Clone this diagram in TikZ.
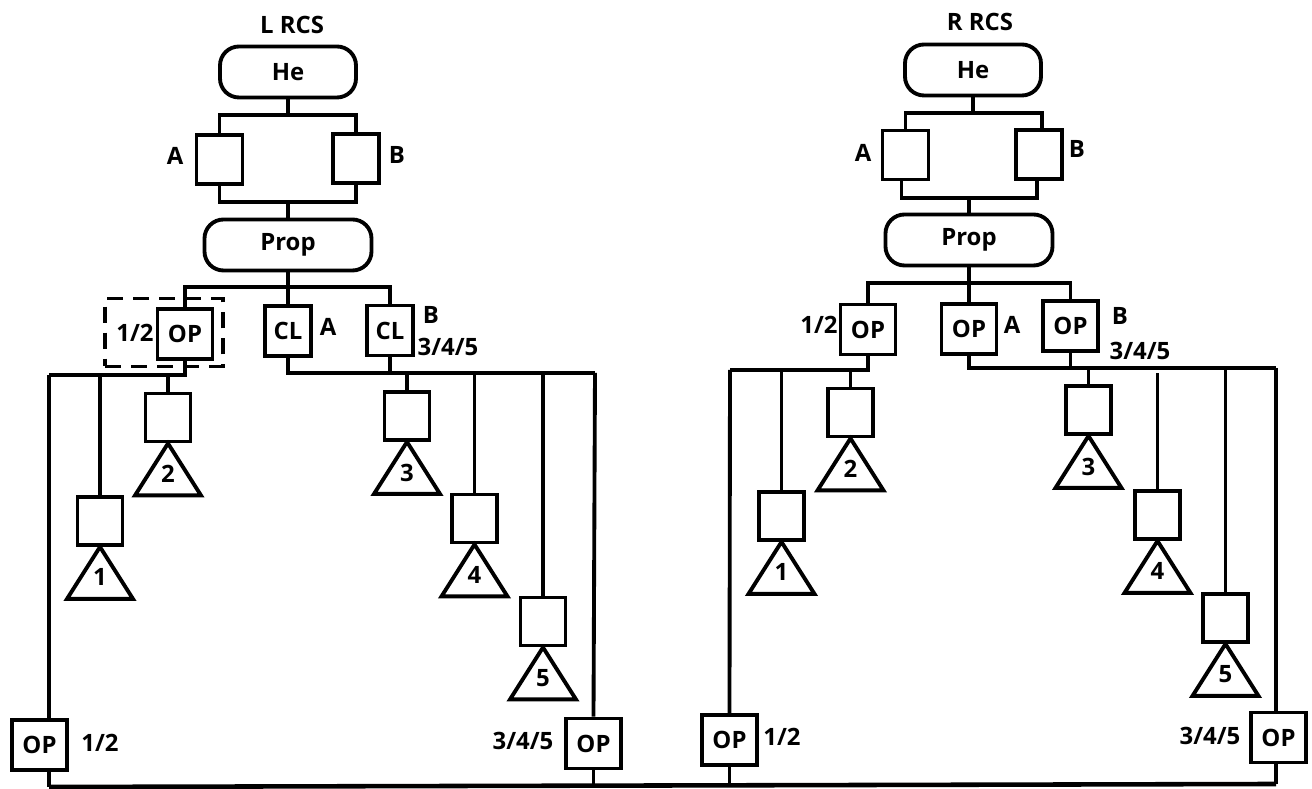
\documentclass[tikz,border=0pt]{standalone}
\usepackage{fontspec}
\setmainfont{Open Sans}
\usetikzlibrary{shapes.geometric}
\begin{document}
\begin{tikzpicture}[line width=1.1pt,font=\fontsize{6.8}{7.8}\selectfont\bfseries,
  lbl/.style={inner sep=0},
  tank/.style={draw,rounded corners=.19cm,minimum width=1.36cm,minimum height=.51cm},
  bottle/.style={draw,minimum width=.46cm,minimum height=.49cm,inner sep=0},
  valve/.style={draw,minimum width=.55cm,minimum height=.5cm,inner sep=0},
  cell/.style={draw,minimum width=.45cm,minimum height=.48cm,inner sep=0},
  thruster/.style={draw,isosceles triangle,isosceles triangle stretches,shape border rotate=90,anchor=apex,outer sep=0,minimum width=.66cm,minimum height=.52cm,inner sep=0,text depth=.07cm}]
\useasboundingbox (0,0) rectangle (13.12,-7.89);

\node[lbl] (ltitle) at (2.92,-.25) {L RCS};
\node[tank] (lhe) at (2.88,-.72) {He};
\node[bottle] (lta) at (2.195,-1.595) {};
\node[bottle] (ltb) at (3.56,-1.585) {};
\node[lbl] (ltal) at (1.75,-1.56) {A};
\node[lbl] (ltbl) at (3.97,-1.55) {B};
\node[tank,minimum width=1.67cm] (lprop) at (2.88,-2.45) {Prop};
\coordinate (lub) at (2.88,-1.15);
\coordinate (llb) at (2.88,-2.02);
\coordinate (lpb) at (2.88,-2.87);
\draw (lhe)--(lub);\draw (lprop)--(llb);\draw (lprop)--(lpb);
\draw (lta.north)--(lta.north|-lub)--(ltb.north|-lub)--(ltb.north);
\draw (lta.south)--(lta.south|-llb)--(ltb.south|-llb)--(ltb.south);

\node[draw,dashed,dash pattern=on 4.6pt off 2.8pt,minimum width=1.18cm,minimum height=.68cm] (ldash) at (1.64,-3.325) {};
\node[valve] (lv12) at (1.85,-3.34) {OP};
\node[valve,minimum width=.455cm] (lva) at (2.88,-3.31) {CL};
\node[valve,minimum width=.455cm] (lvb) at (3.90,-3.305) {CL};
\node[lbl] (lv12l) at (1.35,-3.33) {1/2};
\node[lbl] (lval) at (3.28,-3.27) {A};
\node[lbl] (lvbl) at (4.31,-3.15) {B};
\node[lbl] (l345) at (4.48,-3.47) {3/4/5};
\draw (lv12.north)--(lv12.north|-lpb)--(lvb.north|-lpb)--(lvb.north);
\draw (lpb)--(lva.north);

\coordinate (lbl) at (.49,-3.75);
\coordinate (lbr) at (5.95,-3.73);
\coordinate (bl) at (.49,-7.87);
\coordinate (br) at (12.76,-7.84);
\node[cell] (lc1) at (1.0,-5.21) {};
\node[cell] (lc2) at (1.68,-4.175) {};
\node[cell] (lc3) at (4.07,-4.16) {};
\node[cell] (lc4) at (4.745,-5.185) {};
\node[cell] (lc5) at (5.43,-6.215) {};
\node[thruster] (ln1) at (lc1.south) {1};
\node[thruster] (ln2) at (lc2.south) {2};
\node[thruster] (ln3) at (lc3.south) {3};
\node[thruster] (ln4) at (lc4.south) {4};
\node[thruster] (ln5) at (lc5.south) {5};
\draw (lv12.south)--(lv12.south|-lbl)--(lbl);
\draw (lva.south)--(lva.south|-lbr)--(lbr);
\draw (lvb.south)--(lvb.south|-lbr);
\draw (lc1.north)--(lc1.north|-lbl);\draw (lc2.north)--(lc2.north|-lbl);
\draw (lc3.north)--(lc3.north|-lbr);\draw (lc4.north)--(lc4.north|-lbr);\draw (lc5.north)--(lc5.north|-lbr);

\node[valve] (lo12) at (.395,-7.45) {OP};
\node[valve] (lo345) at (5.935,-7.435) {OP};
\node[lbl] (lo12l) at (1.0,-7.43) {1/2};
\node[lbl] (lo345l) at (5.23,-7.41) {3/4/5};
\draw (lbl)--(lbl|-lo12.north);\draw (lbl|-lo12.south)--(bl);
\draw (lbr)--(lo345.north);\draw (lo345.south)--(lo345.south|-bl);

\node[lbl] (rtitle) at (9.80,-.22) {R RCS};
\node[tank] (rhe) at (9.73,-.70) {He};
\node[bottle] (rta) at (9.055,-1.55) {};
\node[bottle] (rtb) at (10.39,-1.545) {};
\node[lbl] (rtal) at (8.63,-1.53) {A};
\node[lbl] (rtbl) at (10.77,-1.49) {B};
\node[tank,minimum width=1.67cm] (rprop) at (9.69,-2.40) {Prop};
\coordinate (rub) at (9.73,-1.13);
\coordinate (rlb) at (9.69,-1.98);
\coordinate (rpb) at (9.69,-2.83);
\coordinate (rtbn) at ([xshift=.03cm]rtb.north);
\coordinate (rtas) at ([xshift=-.04cm]rta.south);
\coordinate (rtbs) at ([xshift=-.02cm]rtb.south);
\draw (rhe)--(rub);\draw (rprop)--(rlb);\draw (rprop)--(rpb);
\draw (rta.north)--(rta.north|-rub)--(rtbn|-rub)--(rtbn);
\draw (rtas)--(rtas|-rlb)--(rtbs|-rlb)--(rtbs);

\node[valve] (rv12) at (8.68,-3.295) {OP};
\node[valve] (rva) at (9.69,-3.29) {OP};
\node[valve] (rvb) at (10.705,-3.26) {OP};
\node[lbl] (rv12l) at (8.19,-3.25) {1/2};
\node[lbl] (rval) at (10.12,-3.25) {A};
\node[lbl] (rvbl) at (11.20,-3.16) {B};
\node[lbl] (r345) at (11.40,-3.51) {3/4/5};
\draw (rv12.north)--(rv12.north|-rpb)--(rvb.north|-rpb)--(rvb.north);
\draw (rpb)--(rva.north);

\coordinate (rbl) at (7.30,-3.70);
\coordinate (rbr) at (12.76,-3.68);
\coordinate (rg4) at (11.57,-3.73);
\node[cell] (rc1) at (7.815,-5.16) {};
\node[cell] (rc2) at (8.505,-4.125) {};
\node[cell] (rc3) at (10.885,-4.10) {};
\node[cell] (rc4) at (11.575,-5.15) {};
\node[cell] (rc5) at (12.255,-6.18) {};
\node[thruster] (rn1) at (rc1.south) {1};
\node[thruster] (rn2) at (rc2.south) {2};
\node[thruster] (rn3) at (rc3.south) {3};
\node[thruster] (rn4) at (rc4.south) {4};
\node[thruster] (rn5) at (rc5.south) {5};
\draw (rv12.south)--(rv12.south|-rbl)--(rbl);
\draw (rva.south)--(rva.south|-rbr)--(rbr);
\draw (rvb.south)--(rvb.south|-rbr);
\draw (rc1.north)--(rc1.north|-rbl);\draw (rc2.north)--(rc2.north|-rbl);
\draw (rc3.north)--(rc3.north|-rbr);\draw (rc4.north)--(rc4.north|-rg4);\draw (rc5.north)--(rc5.north|-rbr);

\node[valve] (ro12) at (7.295,-7.40) {OP};
\node[valve] (ro345) at (12.785,-7.375) {OP};
\node[lbl] (ro12l) at (7.82,-7.37) {1/2};
\node[lbl] (ro345l) at (12.10,-7.36) {3/4/5};
\draw (rbl)--(ro12.north);\draw (ro12.south)--(ro12.south|-bl);
\draw (rbr)--(rbr|-ro345.north);\draw (rbr|-ro345.south)--(br);
\draw[line width=1.3pt] (bl)--(br);
\end{tikzpicture}
\end{document}
